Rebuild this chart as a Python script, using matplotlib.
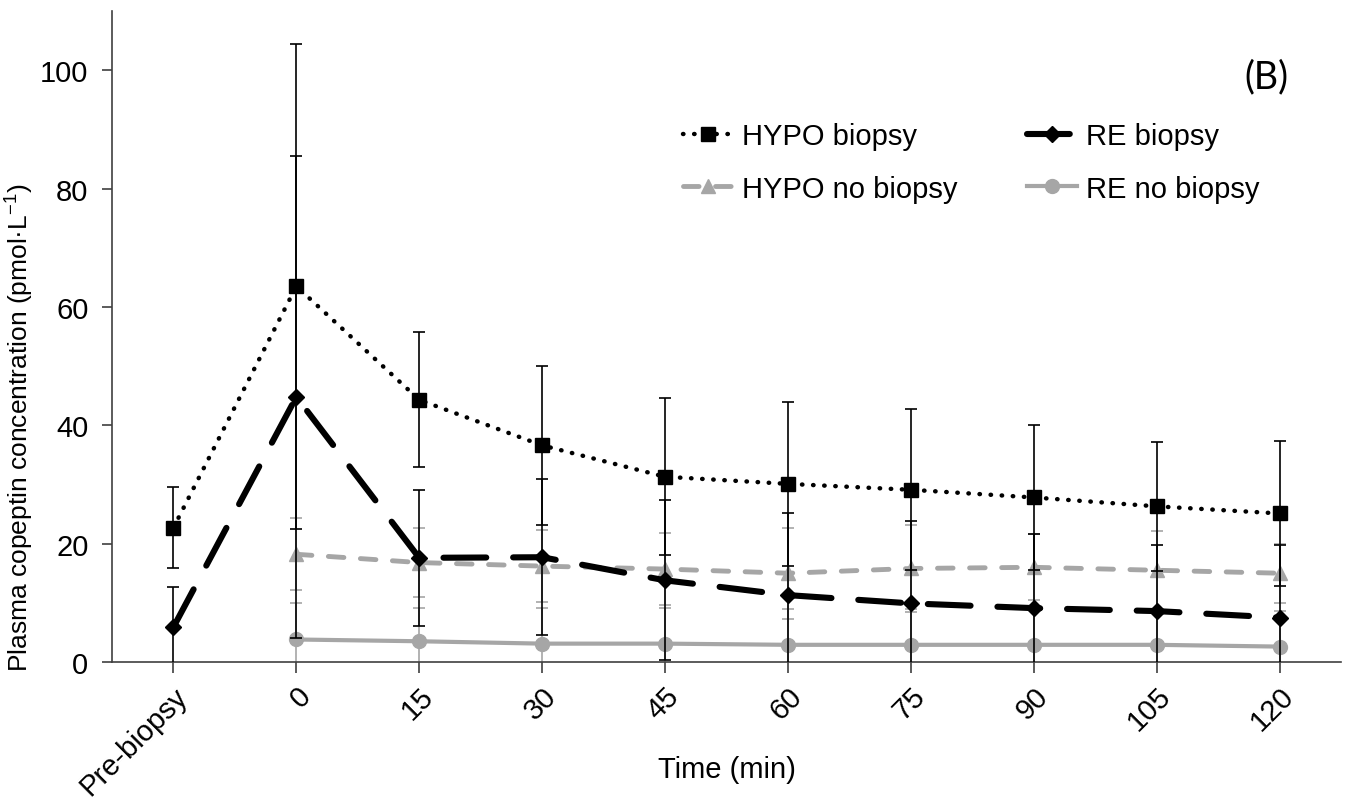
import matplotlib
matplotlib.use('Agg')
import matplotlib.pyplot as plt
import numpy as np

# Datos
labels = ['Pre-biopsy', '0', '15', '30', '45', '60', '75', '90', '105', '120']

hypo_b = [22.7, 63.5, 44.3, 36.6, 31.3, 30.1, 29.1, 27.8, 26.3, 25.1]
hypo_b_err = [6.9, 41.0, 11.4, 13.4, 13.3, 13.8, 13.6, 12.3, 10.9, 12.3]

re_b = [5.9, 44.8, 17.6, 17.7, 13.8, 11.3, 9.9, 9.1, 8.6, 7.5]
re_b_err = [6.8, 40.7, 11.5, 13.2, 13.5, 13.9, 13.9, 12.6, 11.1, 12.3]

hypo_nb = [np.nan, 18.2, 16.8, 16.2, 15.7, 15.0, 15.8, 16.0, 15.5, 15.0]
hypo_nb_err = [np.nan, 6.1, 5.9, 6.1, 6.1, 7.7, 7.4, 5.6, 6.7, 5.0]

re_nb = [np.nan, 3.8, 3.5, 3.1, 3.1, 2.9, 2.9, 2.9, 2.9, 2.6]
re_nb_err = [np.nan, 6.1, 5.7, 6.1, 6.1, 6.0, 6.0, 6.0, 6.0, 6.0]

plt.rcParams['font.family'] = ['Liberation Sans', 'DejaVu Sans']
plt.rcParams['mathtext.fontset'] = 'custom'
plt.rcParams['mathtext.rm'] = 'Liberation Sans'
plt.rcParams['mathtext.it'] = 'Liberation Sans'

GRAY = '#a6a6a6'
FS = 21

x = np.arange(len(labels))

fig = plt.figure(figsize=(13.48, 8.04), dpi=100)
ax = fig.add_axes([0.0831, 0.1754, 0.9117, 0.8096])

# Series grises (sin biopsia)
ax.errorbar(x, hypo_nb, yerr=hypo_nb_err, fmt='none', ecolor=GRAY,
            elinewidth=1.2, capsize=4.5, capthick=1.2, zorder=2)
ax.errorbar(x, re_nb, yerr=re_nb_err, fmt='none', ecolor=GRAY,
            elinewidth=1.2, capsize=4.5, capthick=1.2, zorder=2)
l_re_nb, = ax.plot(x, re_nb, color=GRAY, linewidth=3, marker='o',
                   markersize=10, label='RE no biopsy', zorder=3)
l_hypo_nb, = ax.plot(x, hypo_nb, color=GRAY, linewidth=3.5,
                     linestyle=(0, (3.2, 3.4)), dash_capstyle='round',
                     marker='^', markersize=10, label='HYPO no biopsy', zorder=3)

# Series negras (con biopsia)
ax.errorbar(x, hypo_b, yerr=hypo_b_err, fmt='none', ecolor='black',
            elinewidth=1.2, capsize=4.5, capthick=1.2, zorder=4)
ax.errorbar(x, re_b, yerr=re_b_err, fmt='none', ecolor='black',
            elinewidth=1.2, capsize=4.5, capthick=1.2, zorder=4)
l_re_b, = ax.plot(x, re_b, color='black', linewidth=4.4,
                  linestyle=(0, (7, 4.4)), dash_capstyle='round',
                  marker='D', markersize=8, label='RE biopsy', zorder=5)
l_hypo_b, = ax.plot(x, hypo_b, color='black', linewidth=3.2,
                    linestyle=(0, (0.1, 2.4)), dash_capstyle='round',
                    marker='s', markersize=9.5, label='HYPO biopsy', zorder=5)

ax.set_xlim(-0.5, len(labels) - 0.5)
ax.set_ylim(0, 110)
ax.set_yticks([0, 20, 40, 60, 80, 100])
ax.set_xticks(x)
ax.set_xticklabels(labels, rotation=45, ha='right', rotation_mode='anchor')

ax.spines['top'].set_visible(False)
ax.spines['right'].set_visible(False)
for s in ['left', 'bottom']:
    ax.spines[s].set_color('#404040')
    ax.spines[s].set_linewidth(1.2)
ax.tick_params(axis='both', direction='out', color='#404040', width=1.2,
               labelsize=FS, labelcolor='black')
ax.tick_params(axis='x', length=8, pad=6)
ax.tick_params(axis='y', length=7, pad=10)

ax.set_xlabel('Time (min)', fontsize=FS)
ax.xaxis.set_label_coords(0.5, -0.143)
ax.set_ylabel('Plasma copeptin concentration (pmol·L$^{-1}$)', fontsize=19)
ax.yaxis.set_label_coords(-0.062, 0.361)

ax.legend(handles=[l_hypo_b, l_hypo_nb, l_re_b, l_re_nb], ncol=2,
          loc='upper left', bbox_to_anchor=(0.465, 0.83), frameon=False,
          fontsize=FS, handlelength=1.7, handletextpad=0.3,
          columnspacing=2.4, labelspacing=0.85, borderpad=0,
          borderaxespad=0)

ax.text(0.939, 0.90, '(B)', transform=ax.transAxes, fontsize=27,
        family=['Lato', 'DejaVu Sans'], ha='center', va='center')

fig.savefig('out.png', dpi=100)
